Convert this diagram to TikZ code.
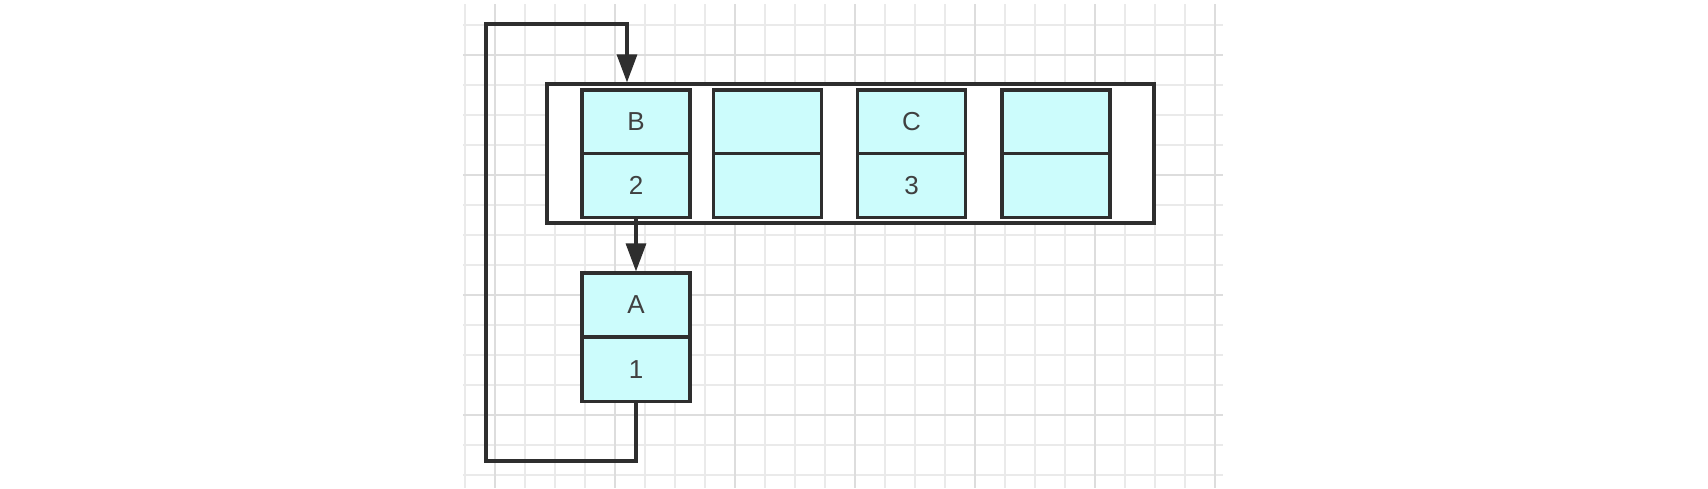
\documentclass[tikz,border=0pt]{standalone}
\usepackage{fontspec}
\setmainfont{Liberation Sans}
\usetikzlibrary{arrows.meta}

\definecolor{edgecol}{HTML}{2E2E2E}
\definecolor{cellcol}{HTML}{CCFCFC}
\definecolor{textcol}{HTML}{404040}
\definecolor{gridminor}{HTML}{EAEAEA}
\definecolor{gridmajor}{HTML}{DDDDDD}

\tikzset{
  slot/.style={draw=edgecol, fill=cellcol, line width=1.6pt, minimum width=54pt,
    minimum height=32pt, inner sep=0pt, text=textcol, font=\fontsize{13}{15}\selectfont},
  link/.style={draw=edgecol, line width=1.6pt, -{Triangle[length=14pt,width=10pt]}},
}

\begin{document}
\begin{tikzpicture}[x=0.5pt, y=-0.5pt]
\useasboundingbox[fill=white] (0,0) rectangle (1708,488);

% grid
\foreach \x in {465,495,...,1215}
  \draw[gridminor, line width=0.55pt] (\x,4) -- (\x,488);
\foreach \y in {25,55,...,475}
  \draw[gridminor, line width=0.55pt] (463,\y) -- (1223,\y);
\foreach \x in {495,615,...,1215}
  \draw[gridmajor, line width=0.6pt] (\x,4) -- (\x,488);
\foreach \y in {55,175,295,415}
  \draw[gridmajor, line width=0.6pt] (463,\y) -- (1223,\y);

% array
\node[draw=edgecol, fill=white, line width=1.6pt, minimum width=303.5pt,
  minimum height=69.5pt, inner sep=0pt] (array) at (850.5,153.5) {};

\node[slot] (bKey) at (636,122) {B};
\node[slot] (bVal) at (636,185.5) {2};
\node[slot] (eKey) at (767.5,122) {};
\node[slot] (eVal) at (767.5,185.5) {};
\node[slot] (cKey) at (911.5,122) {C};
\node[slot] (cVal) at (911.5,185.5) {3};
\node[slot] (fKey) at (1056,122) {};
\node[slot] (fVal) at (1056,185.5) {};

% single entry
\node[slot] (aKey) at (636,305) {A};
\node[slot] (aVal) at (636,369.5) {1};

% pointers
\coordinate (loopLeft) at (486,461);
\coordinate (loopTop) at (627,24);
\draw[link] (bVal.south) -- (aKey.north);
\draw[link] (aVal.south) |- (loopLeft) |- (loopTop) -- (loopTop |- array.north);
\end{tikzpicture}
\end{document}
